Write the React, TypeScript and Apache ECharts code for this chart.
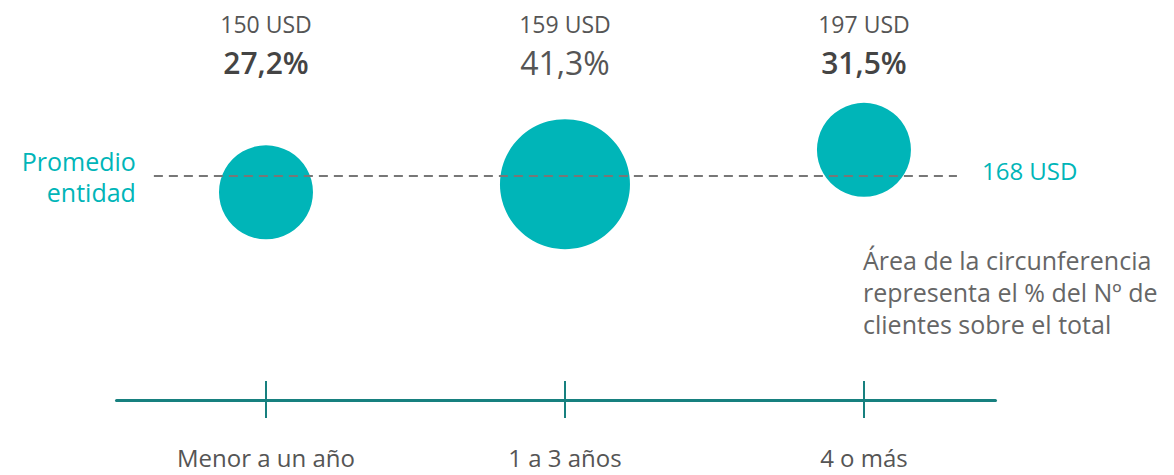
import React, { useEffect, useRef } from "react";
import * as echarts from "echarts";

const categories = ["Menor a un año", "1 a 3 años", "4 o más"];
const usdValues = [150, 159, 197];
const pctLabels = ["27,2", "41,3", "31,5"];
const pctValues = [27.2, 41.3, 31.5];
const averageUsd = 168;
const averageLabel = "Promedio\nentidad";
const noteText = "Área de la circunferencia\nrepresenta el % del Nº de\nclientes sobre el total";

const TEAL = "#00b5b8";
const AXIS = "#17807f";
const FONT = "'Open Sans', 'Noto Sans', sans-serif";

export default function App() {
  const ref = useRef<HTMLDivElement>(null);

  useEffect(() => {
    if (!ref.current) return;
    const chart = echarts.init(ref.current, null, { renderer: "svg" });
    const idx = categories.map((_, i) => i);
    const xMin = -0.5;
    const xMax = 2.44;

    const option: any = {
      animation: false,
      textStyle: { fontFamily: FONT },
      grid: { left: 116.5, right: 178.5, top: 111, bottom: 75, containLabel: false },
      xAxis: [
        {
          type: "value",
          min: xMin,
          max: xMax,
          position: "bottom",
          axisLine: { show: true, onZero: false, lineStyle: { color: AXIS, width: 3 } },
          axisTick: { show: true, customValues: idx, length: 18, lineStyle: { color: AXIS, width: 2 } },
          axisLabel: {
            show: true,
            customValues: idx,
            margin: 44,
            fontSize: 24,
            lineHeight: 26,
            color: "#555555",
            fontFamily: FONT,
            formatter: (v: number) => categories[Math.round(v)] ?? "",
          },
          splitLine: { show: false },
        },
        {
          type: "value",
          min: xMin,
          max: xMax,
          position: "bottom",
          axisLine: { show: false, onZero: false },
          axisTick: { show: true, inside: true, customValues: idx, length: 19, lineStyle: { color: AXIS, width: 2 } },
          axisLabel: { show: false },
          splitLine: { show: false },
        },
        {
          type: "value",
          min: xMin,
          max: xMax,
          position: "top",
          axisLine: { show: false, onZero: false },
          axisTick: { show: false },
          axisLabel: {
            show: true,
            customValues: idx,
            margin: 30,
            fontFamily: FONT,
            formatter: (v: number) => {
              const i = Math.round(v);
              const style = pctValues[i] === Math.max(...pctValues) ? "c" : "b";
              return `{a|${usdValues[i]} USD}\n{${style}|${pctLabels[i]}%}`;
            },
            rich: {
              a: { fontSize: 23, color: "#555555", lineHeight: 38, fontFamily: FONT },
              b: { fontSize: 30, fontWeight: 600, color: "#444444", lineHeight: 38, fontFamily: FONT },
              c: { fontSize: 32, fontWeight: 400, color: "#555555", lineHeight: 38, fontFamily: FONT },
            },
          },
          splitLine: { show: false },
        },
      ],
      yAxis: {
        type: "value",
        min: -80,
        max: 240,
        show: false,
        splitLine: { show: false },
      },
      series: [
        {
          type: "scatter",
          xAxisIndex: 0,
          data: usdValues.map((u, i) => [i, u, pctValues[i]]),
          symbolSize: (d: number[]) => (d[2] > 40 ? 130 : 94),
          itemStyle: { color: TEAL, opacity: 1 },
          z: 2,
          markLine: {
            silent: true,
            symbol: ["none", "none"],
            z: 3,
            lineStyle: { color: "#777777", type: [9, 6], width: 2 },
            data: [
              [
                {
                  coord: [-0.375, averageUsd],
                  label: {
                    show: true,
                    position: "start",
                    formatter: averageLabel,
                    color: TEAL,
                    fontSize: 25,
                    lineHeight: 31,
                    align: "right",
                    distance: 18,
                    fontFamily: FONT,
                  },
                },
                { coord: [2.311, averageUsd] },
              ],
              [
                {
                  coord: [-0.375, averageUsd],
                  lineStyle: { color: "rgba(0,0,0,0)", width: 0 },
                  label: {
                    show: true,
                    position: "end",
                    formatter: `${averageUsd} USD`,
                    color: TEAL,
                    fontSize: 24,
                    distance: 25,
                    offset: [0, -6],
                    fontFamily: FONT,
                  },
                },
                { coord: [2.311, averageUsd] },
              ],
            ],
          },
        },
      ],
      graphic: [
        {
          type: "text",
          left: 863,
          top: 244,
          style: {
            text: noteText,
            fontSize: 25,
            lineHeight: 32,
            fill: "#666666",
            fontFamily: FONT,
          },
        },
      ],
    };

    chart.setOption(option);
    return () => chart.dispose();
  }, []);

  return (
    <div
      ref={ref}
      style={{ position: "fixed", left: 0, top: 0, width: 1174, height: 475, background: "#ffffff" }}
    />
  );
}
